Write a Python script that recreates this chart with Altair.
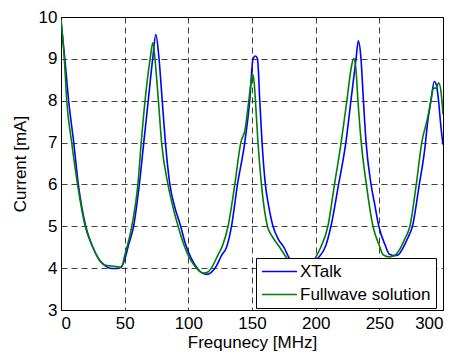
import altair as alt
import pandas as pd

# ---- data ----
xtalk_f = [0, 3, 6, 10, 13.6, 19.4, 25, 30, 35, 40,
           44, 47, 50, 53, 57, 61.5, 65, 68.5, 72, 74.5,
           77, 79.5, 82, 85.5, 89, 94, 97.5, 102, 107, 111,
           114.5, 118, 122, 126, 130, 133.9, 138.6, 144.3, 148.2, 150.8,
           152.7, 154.3, 156.1, 157.9, 160.5, 163, 166.5, 170.5, 175, 179.5,
           184, 189, 193, 197, 201.6, 208, 212, 218, 223.7, 227.7,
           231.7, 233.5, 235.6, 237.5, 239.6, 243.5, 246.5, 249.6, 254.7, 258,
           262, 265, 268, 272, 276, 281.4, 285.5, 288, 290.5, 293.2,
           295, 296.5, 298.3, 300]
xtalk_v = [9.9, 9.0, 8.0, 7.0, 6.0, 5.0, 4.5, 4.2, 4.05, 3.99,
           3.99, 4.02, 4.2, 4.55, 5.0, 6.0, 7.0, 8.0, 9.0, 9.58,
           9.0, 8.0, 7.0, 6.0, 5.5, 5.0, 4.6, 4.25, 4.0, 3.88,
           3.85, 3.9, 4.05, 4.3, 4.5, 5.0, 6.0, 7.0, 8.0, 9.0,
           9.07, 9.0, 8.0, 7.0, 6.0, 5.5, 5.0, 4.7, 4.5, 4.22,
           4.02, 3.92, 3.93, 4.05, 4.23, 4.54, 5.0, 6.0, 7.0, 8.0,
           9.0, 9.43, 9.0, 8.0, 7.0, 6.0, 5.5, 5.0, 4.54, 4.33,
           4.3, 4.32, 4.45, 4.7, 5.0, 6.0, 6.8, 7.5, 8.0, 8.46,
           8.35, 8.0, 7.4, 6.95]

full_f = [0, 2.6, 4.5, 8.4, 13, 19, 25, 30, 35, 40,
          45, 47.5, 50, 55.6, 60.4, 63, 66, 70, 72.2, 73.8,
          76.5, 79, 84, 88, 92, 96, 100, 105, 109, 112,
          115, 119, 123, 127, 131.2, 136.5, 141.2, 144.5, 147.5, 149.5,
          150.8, 151.8, 152.7, 154.7, 157.4, 162.1, 166, 171.7, 177, 182,
          188, 192, 196, 199.5, 204, 209.6, 214.8, 220, 224.5, 228,
          229.8, 231.5, 233.2, 235.8, 239.8, 245, 250, 253, 257.7, 262,
          266, 270, 274, 279, 283.3, 288, 290.5, 292.5, 294.5, 296.6,
          298.5, 300]
full_v = [9.95, 9.0, 8.0, 7.0, 6.0, 5.0, 4.5, 4.2, 4.07, 4.05,
          4.03, 4.02, 4.3, 5.0, 6.0, 7.0, 8.0, 9.0, 9.39, 9.0,
          8.0, 7.0, 6.0, 5.45, 5.0, 4.6, 4.3, 4.05, 3.92, 3.88,
          3.9, 4.05, 4.3, 4.55, 5.0, 6.0, 7.0, 7.3, 8.0, 8.5,
          8.62, 8.4, 8.0, 7.0, 6.0, 5.0, 4.75, 4.5, 4.25, 4.02,
          3.9, 3.92, 4.05, 4.23, 4.5, 5.0, 6.0, 7.0, 8.0, 8.8,
          9.01, 8.8, 8.0, 7.0, 6.0, 5.0, 4.54, 4.32, 4.27, 4.3,
          4.45, 4.7, 5.0, 6.0, 7.0, 7.6, 8.0, 8.3, 8.3, 8.43,
          8.2, 7.67]

series_names = ["XTalk", "Fullwave solution"]
series_colors = ["#0000ff", "#008000"]
x_ticks = [0, 50, 100, 150, 200, 250, 300]
y_ticks = [3, 4, 5, 6, 7, 8, 9, 10]

df = pd.concat([
    pd.DataFrame({"f": xtalk_f, "v": xtalk_v, "series": series_names[0], "order": range(len(xtalk_f))}),
    pd.DataFrame({"f": full_f, "v": full_v, "series": series_names[1], "order": range(len(full_f))}),
])

FONT = "Liberation Sans"

chart = alt.Chart(df).mark_line(strokeWidth=1.6, interpolate="monotone", clip=True).encode(
    x=alt.X("f:Q", scale=alt.Scale(domain=[0, 300], nice=False),
            axis=alt.Axis(values=x_ticks, title="Frequnecy [MHz]", format="d")),
    y=alt.Y("v:Q", scale=alt.Scale(domain=[3, 10], nice=False),
            axis=alt.Axis(values=y_ticks, title="Current [mA]", format="d")),
    color=alt.Color("series:N",
                    scale=alt.Scale(domain=series_names, range=series_colors),
                    legend=alt.Legend(title=None, orient="none", legendX=195, legendY=241,
                                      symbolType="M-1.5,0H5.5", symbolSize=100,
                                      symbolStrokeWidth=1.6, padding=5, rowPadding=5,
                                      labelOffset=22, labelFont=FONT, labelFontSize=17,
                                      labelColor="#000000", labelLimit=300,
                                      strokeColor="#000000", fillColor="#ffffff")),
    detail="series:N",
    order="order:Q",
).properties(
    width=382, height=293,
    autosize=alt.AutoSizeParams(type="none"),
    padding={"left": 53, "top": 9, "right": 11, "bottom": 48},
).configure_view(
    stroke="#000000", strokeWidth=1
).configure_axis(
    grid=True, gridColor="#000000", gridDash=[6, 4], gridOpacity=0.75, gridWidth=1,
    ticks=False, domain=False,
    labelFont=FONT, labelFontSize=17, labelColor="#000000",
    titleFont=FONT, titleFontSize=17, titleColor="#000000", titleFontWeight="normal",
).configure_axisX(
    labelPadding=5, titlePadding=3
).configure_axisY(
    labelPadding=4, titlePadding=9
)

chart.save("out.html", embed_options={"renderer": "svg", "actions": False})
